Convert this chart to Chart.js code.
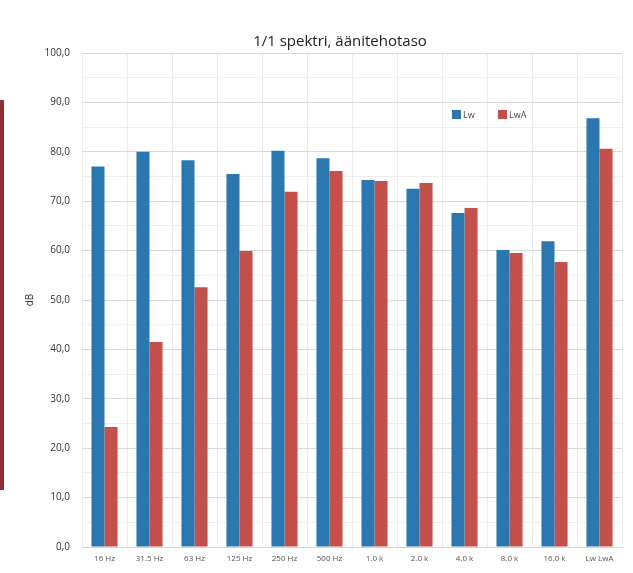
<!DOCTYPE html>
<html>
<head>
<meta charset="utf-8">
<script src="https://cdn.jsdelivr.net/npm/chart.js@4"></script>
<style>
  html, body { margin: 0; padding: 0; background: #fff; }
  #wrap { width: 633px; height: 573px; }
</style>
</head>
<body>
<div id="wrap"><canvas id="spektri" width="633" height="573"></canvas></div>
<script>
// ─── Oktaavikaistat ja tasot ────────────────────────────────────────────────
const bands = ['16 Hz', '31.5 Hz', '63 Hz', '125 Hz', '250 Hz', '500 Hz', '1.0 k', '2.0 k', '4.0 k', '8.0 k', '16.0 k', 'Lw LwA'];
const lw  = [77.0, 80.0, 78.3, 75.5, 80.2, 78.7, 74.3, 72.5, 67.6, 60.1, 61.9, 86.8];
const lwa = [24.3, 41.5, 52.6, 59.9, 71.9, 76.1, 74.1, 73.7, 68.6, 59.5, 57.7, 80.6];

const BLUE = '#2b78b0';
const RED  = '#c4504b';
const FONT = "'Open Sans', 'Liberation Sans', sans-serif";

const fmtFi = v => v.toFixed(1).replace('.', ',');

// otsikko ja selite piirretään käsin kaavion sisään
const overlay = {
  id: 'overlay',
  afterDraw(chart) {
    const { ctx } = chart;
    ctx.save();
    // naapurikaavion reuna vasemmalla
    ctx.fillStyle = '#8e2f35';
    ctx.fillRect(0, 100, 4, 390);

    ctx.fillStyle = '#222';
    ctx.font = `15px ${FONT}`;
    ctx.textAlign = 'center';
    ctx.textBaseline = 'middle';
    ctx.fillText('1/1 spektri, äänitehotaso', 340, 42);

    ctx.font = `9px ${FONT}`;
    ctx.textAlign = 'left';
    let x = 452;
    chart.data.datasets.forEach(ds => {
      ctx.fillStyle = ds.backgroundColor;
      ctx.fillRect(x, 110, 9, 9);
      ctx.fillStyle = '#444';
      ctx.fillText(ds.label, x + 11, 115);
      x += 46;
    });
    ctx.restore();
  },
};

new Chart(document.getElementById('spektri'), {
  type: 'bar',
  data: {
    labels: bands,
    datasets: [
      { label: 'Lw',  data: lw,  backgroundColor: BLUE },
      { label: 'LwA', data: lwa, backgroundColor: RED },
    ],
  },
  options: {
    responsive: false, animation: false,
    datasets: { bar: { categoryPercentage: 0.58, barPercentage: 1.0 } },
    layout: { padding: { top: 53, right: 11, left: 0, bottom: 0 } },
    plugins: { legend: { display: false }, title: { display: false }, tooltip: { enabled: false } },
    scales: {
      x: {
        grid: { offset: true, color: '#ececec', drawTicks: false },
        border: { color: '#d6d6d6' },
        ticks: { color: '#555', font: { family: FONT, size: 8 }, padding: 7, autoSkip: false, maxRotation: 0 },
        afterFit: s => { s.height = 26; },
      },
      y: {
        min: 0, max: 100,
        grid: {
          drawTicks: false,
          color: c => (c.tick && c.tick.value % 10 === 0 ? '#d9d9d9' : '#eeeeee'),
        },
        border: { display: false },
        ticks: {
          stepSize: 5, autoSkip: false, padding: 12, color: '#333',
          font: { family: FONT, size: 10 },
          callback: v => (v % 10 === 0 ? fmtFi(v) : ''),
        },
        title: { display: true, text: 'dB', color: '#333', font: { family: FONT, size: 10 }, padding: { top: 24, bottom: 0 } },
        afterFit: s => { s.width = 82; },
      },
    },
  },
  plugins: [overlay],
});
</script>
</body>
</html>
